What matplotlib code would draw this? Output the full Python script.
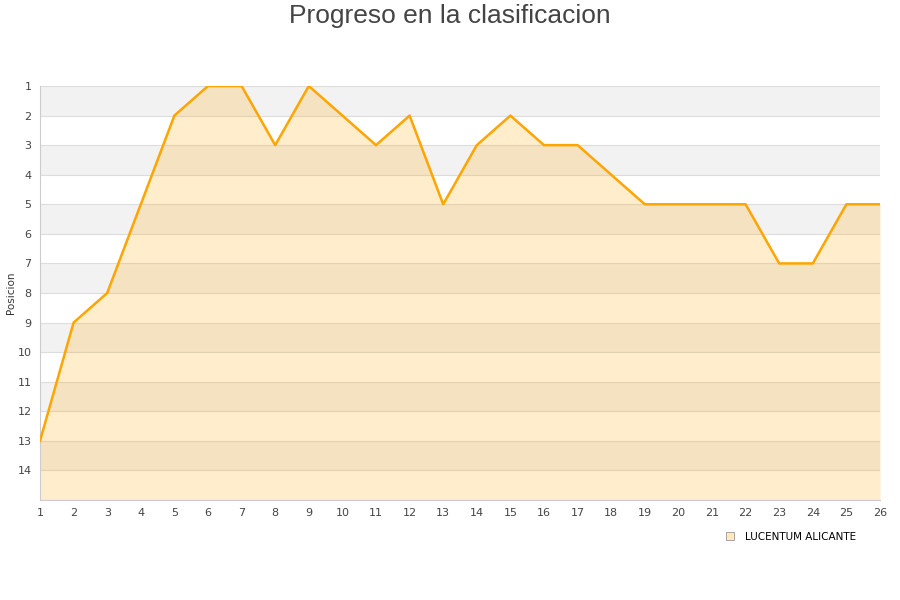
import numpy as np
import matplotlib
matplotlib.use("Agg")
import matplotlib.pyplot as plt
from matplotlib.lines import Line2D

# jornadas y posicion
jornadas = list(range(1, 27))
posicion = [13, 9, 8, 5, 2, 1, 1, 3, 1, 2, 3, 2, 5, 3, 2, 3, 3, 4, 5, 5, 5, 5, 7, 7, 5, 5]
equipo = "LUCENTUM ALICANTE"

fig = plt.figure(figsize=(9, 6), dpi=100)
ax = fig.add_axes([40 / 900, 100 / 600, 840 / 900, 414 / 600])

# bandas alternas
for y in range(1, 15, 2):
    ax.axhspan(y, y + 1, color="#f2f2f2", zorder=0, lw=0)
for y in range(1, 16):
    ax.axhline(y, color="#dddddd", lw=0.8, zorder=1)

ax.fill_between(jornadas, posicion, 15, color="orange", alpha=0.2, lw=0, zorder=2)
ax.plot(jornadas, posicion, color="orange", lw=1.8, zorder=3)

ax.set_xlim(1, 26)
ax.set_ylim(15, 1)
ax.set_xticks(jornadas)
ax.set_yticks(range(1, 15))
ax.tick_params(length=0, labelsize=8, colors="#444444", pad=6)
for s in ["top", "right"]:
    ax.spines[s].set_visible(False)
for s in ["left", "bottom"]:
    ax.spines[s].set_color("#cccccc")

fig.text(11 / 900, 1 - 293 / 600, "Posicion", rotation=90, fontsize=7.5,
         color="#333333", ha="center", va="center")
fig.text(0.5, 1 - 16 / 600, "Progreso en la clasificacion", fontsize=19,
         family="Liberation Sans", color="#444444", ha="center", va="center")

handle = Line2D([], [], marker="s", ls="", markersize=6, markerfacecolor="#ffe8bf",
                markeredgecolor="#999999", markeredgewidth=0.6)
fig.legend([handle], [equipo], loc="center", bbox_to_anchor=(788 / 900, 1 - 537 / 600),
           frameon=False, fontsize=7.5, handletextpad=0.5)

fig.savefig("out.png", dpi=100)
